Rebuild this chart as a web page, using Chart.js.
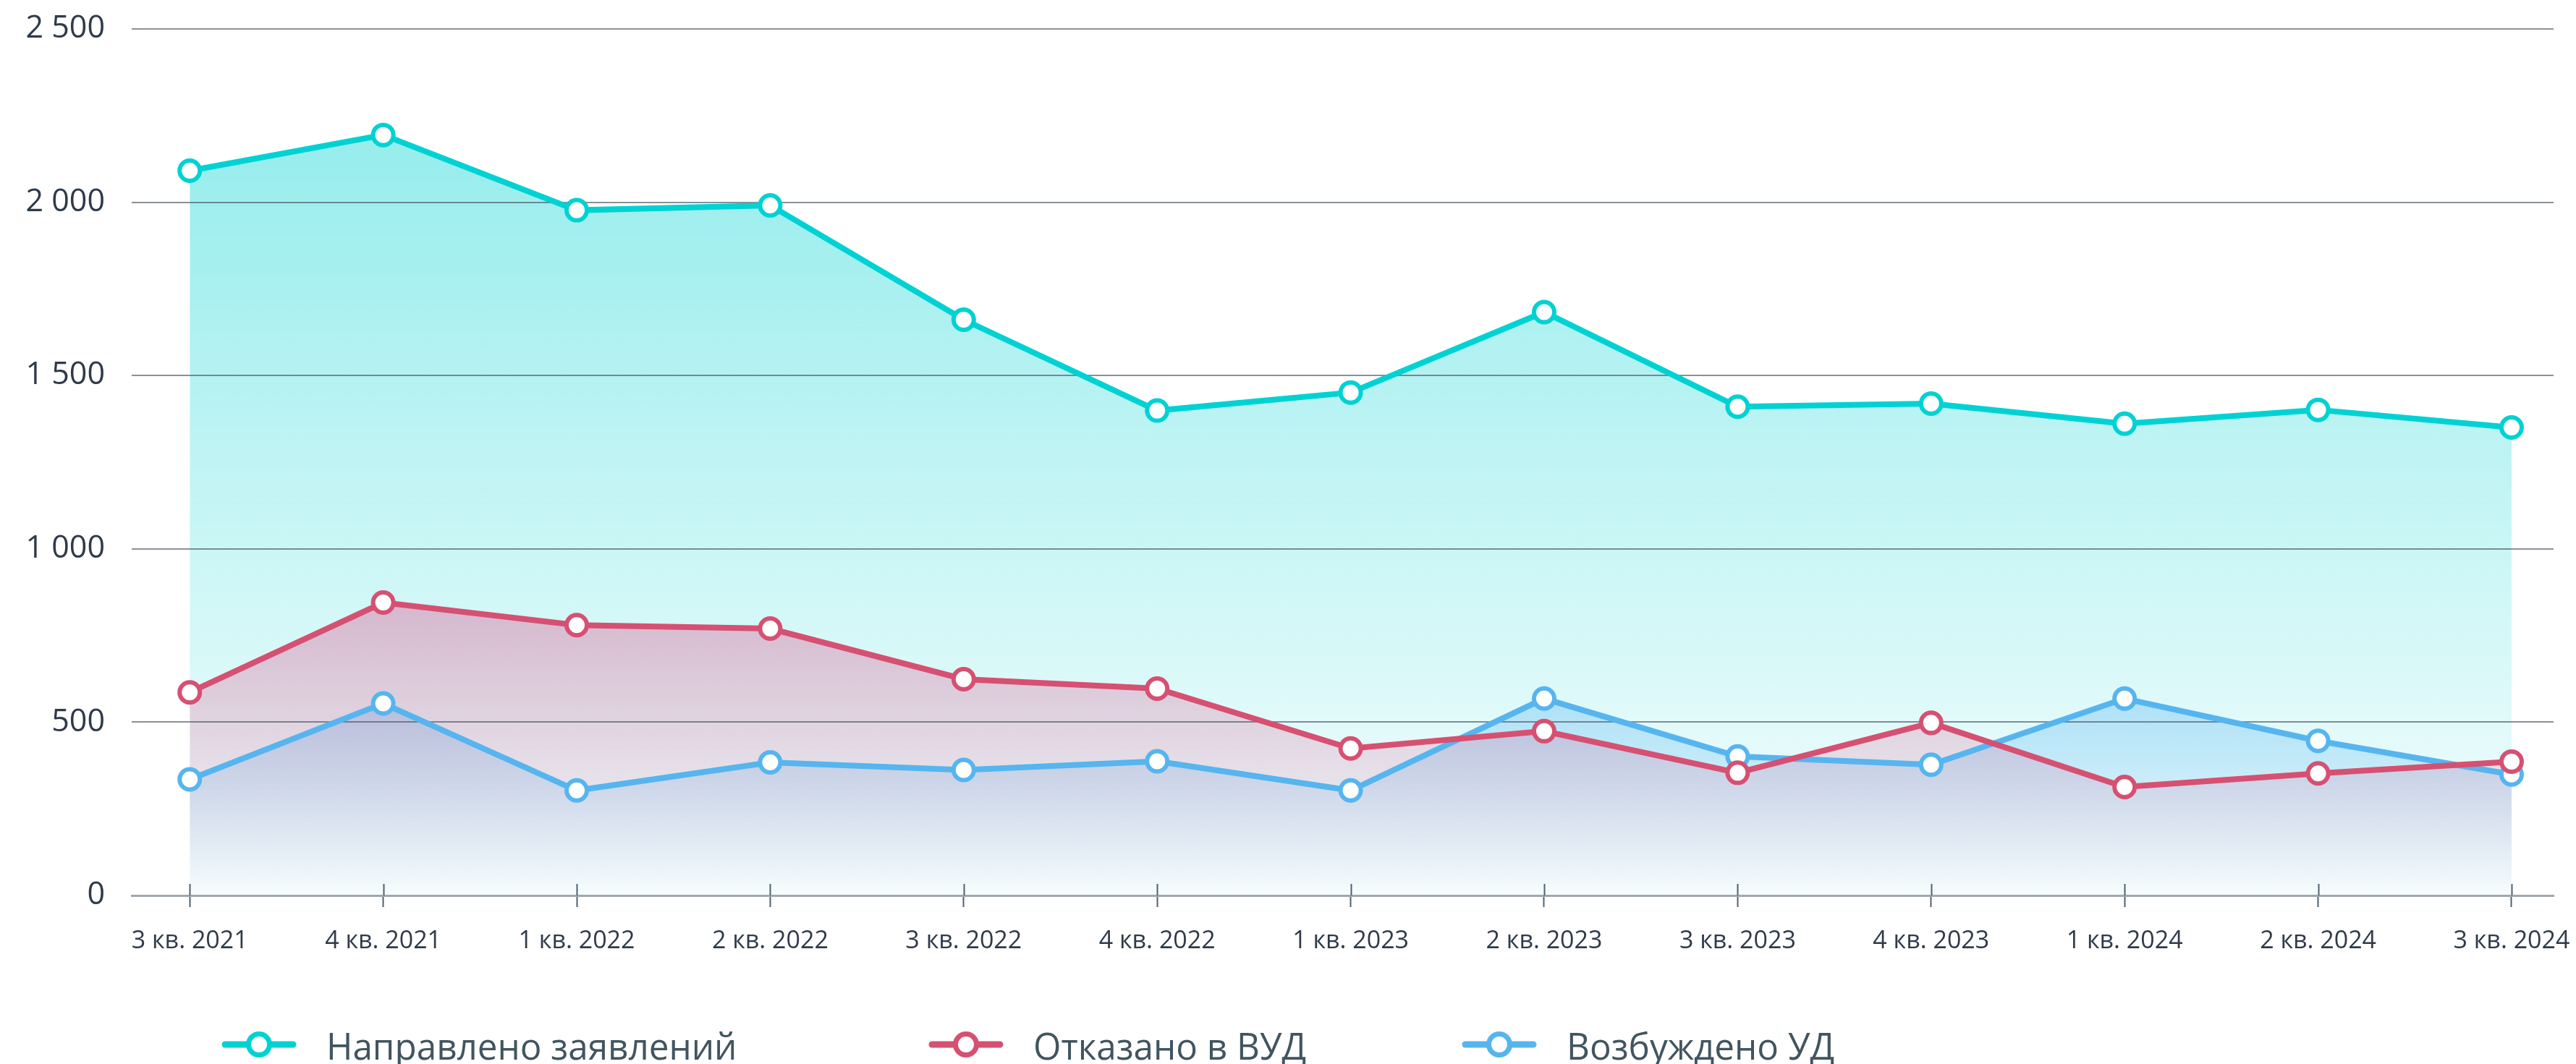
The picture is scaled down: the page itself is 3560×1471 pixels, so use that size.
<!DOCTYPE html>
<html lang="ru">

<head>
    <meta charset="UTF-8">
    <title>Направлено заявлений, отказано в ВУД, возбуждено УД</title>
    <script src="https://cdn.jsdelivr.net/npm/chart.js@4"></script>
    <style>
        html, body { margin: 0; padding: 0; background: #fff; }
        .wrap { position: relative; width: 3560px; height: 1471px; overflow: hidden; }
        #chart { position: absolute; left: 0; top: 0; }
        .legend { position: absolute; left: 0; top: 1424px; width: 3560px; height: 40px;
                  font-family: "Open Sans", sans-serif; font-size: 52px; color: #415560; }
        .legend .item { position: absolute; top: 0; height: 40px; display: flex; align-items: center; white-space: nowrap; }
        .legend svg { flex: none; margin-right: 41px; }
        .legend span { display: inline-block; transform: scaleX(0.95); transform-origin: left center; }
    </style>
</head>

<body>
    <div class="wrap">
        <canvas id="chart" width="3560" height="1471"></canvas>
        <div class="legend" id="legend"></div>
    </div>

    <script>
        // data
        const categories = ['3 кв. 2021', '4 кв. 2021', '1 кв. 2022', '2 кв. 2022', '3 кв. 2022', '4 кв. 2022',
            '1 кв. 2023', '2 кв. 2023', '3 кв. 2023', '4 кв. 2023', '1 кв. 2024', '2 кв. 2024', '3 кв. 2024'];
        const seriesNames = ['Направлено заявлений', 'Отказано в ВУД', 'Возбуждено УД'];
        const napravleno = [2091, 2194, 1977, 1991, 1661, 1399, 1451, 1683, 1410, 1419, 1361, 1401, 1350];
        const otkazano = [586, 845, 780, 770, 624, 597, 424, 474, 354, 498, 313, 352, 386];
        const vozbuzhdeno = [335, 554, 303, 384, 362, 387, 303, 568, 401, 377, 568, 446, 349];
        const yTicks = [0, 500, 1000, 1500, 2000, 2500];

        const colors = ['#00d2d3', '#d65072', '#56b5ef'];
        const fillRGB = ['0,210,210', '220,70,130', '86,180,240'];
        // value from which each fill gradient starts, and its opacity there
        const fillFrom = [2250, 850, 580];
        const fillAlpha = [0.42, 0.36, 0.36];

        // x range: a bit of room before the first quarter and after the last
        const xMin = -0.3;
        const xMax = 12.217;

        function fmt(v) {
            return String(v).replace(/\B(?=(\d{3})+(?!\d))/g, ' ');
        }

        function toPoints(arr) {
            return arr.map((v, i) => ({ x: i, y: v }));
        }

        function makeFill(i) {
            return function (context) {
                const chart = context.chart;
                const area = chart.chartArea;
                if (!area) return 'rgba(' + fillRGB[i] + ',0.2)';
                const top = chart.scales.y.getPixelForValue(fillFrom[i]);
                const g = chart.ctx.createLinearGradient(0, top, 0, area.bottom);
                g.addColorStop(0, 'rgba(' + fillRGB[i] + ',' + fillAlpha[i] + ')');
                g.addColorStop(1, 'rgba(' + fillRGB[i] + ',' + (i == 0 ? 0.03 : 0) + ')');
                return g;
            };
        }

        const allSeries = [napravleno, otkazano, vozbuzhdeno];
        const drawOrder = [3, 1, 2];

        const datasets = allSeries.map((s, i) => ({
            label: seriesNames[i],
            data: toPoints(s),
            borderColor: colors[i],
            borderWidth: 8,
            backgroundColor: makeFill(i),
            fill: 'origin',
            tension: 0,
            pointRadius: 14,
            pointBorderWidth: 6,
            pointBackgroundColor: '#fff',
            pointBorderColor: colors[i],
            order: drawOrder[i]
        }));

        // horizontal grid lines, same length as the x axis line
        const hGrid = {
            id: 'hGrid',
            beforeDatasetsDraw(chart) {
                const ctx = chart.ctx;
                const x = chart.scales.x;
                const y = chart.scales.y;
                const step = x.getPixelForValue(1) - x.getPixelForValue(0);
                const last = categories.length - 1;
                const x1 = x.getPixelForValue(0) + xMin * step;
                const x2 = Math.min(x.getPixelForValue(xMax), x.getPixelForValue(last) + (xMax - last) * step);
                ctx.save();
                ctx.strokeStyle = 'rgba(72,80,94,0.85)';
                ctx.lineWidth = 1.5;
                yTicks.forEach(v => {
                    if (v === 0) return;
                    const py = Math.round(y.getPixelForValue(v));
                    ctx.beginPath();
                    ctx.moveTo(x1, py);
                    ctx.lineTo(x2, py);
                    ctx.stroke();
                });
                ctx.restore();
            }
        };

        // tick marks that cross the x axis line
        const crossTicks = {
            id: 'crossTicks',
            afterDatasetsDraw(chart) {
                const ctx = chart.ctx;
                const x = chart.scales.x;
                const bottom = chart.chartArea.bottom;
                ctx.save();
                ctx.strokeStyle = '#4e6070';
                ctx.lineWidth = 2;
                categories.forEach((c, i) => {
                    const px = Math.round(x.getPixelForValue(i)) + 0.5;
                    ctx.beginPath();
                    ctx.moveTo(px, bottom - 16);
                    ctx.lineTo(px, bottom);
                    ctx.stroke();
                });
                ctx.restore();
            }
        };

        new Chart(document.getElementById('chart'), {
            type: 'line',
            data: { datasets: datasets },
            plugins: [hGrid, crossTicks],
            options: {
                responsive: false,
                animation: false,
                layout: { padding: { top: 40, right: 0, left: 0, bottom: 0 } },
                plugins: {
                    legend: { display: false },
                    tooltip: { enabled: false },
                    filler: { drawTime: 'beforeDatasetsDraw' }
                },
                scales: {
                    x: {
                        type: 'linear',
                        min: xMin,
                        max: xMax,
                        afterBuildTicks: scale => { scale.ticks = categories.map((c, i) => ({ value: i })); },
                        afterFit: scale => {
                            scale.height = 233;
                            scale.paddingLeft = 0;
                            scale.paddingRight = 31;
                        },
                        ticks: {
                            callback: v => categories[v],
                            autoSkip: false,
                            maxRotation: 0,
                            padding: 27,
                            color: '#2f3a4a',
                            font: { family: 'Open Sans', size: 34 }
                        },
                        grid: {
                            drawOnChartArea: false,
                            drawTicks: true,
                            tickLength: 16,
                            tickWidth: 2,
                            tickColor: '#4e6070'
                        },
                        border: { display: true, color: '#a0a7ad', width: 3 }
                    },
                    y: {
                        min: 0,
                        max: 2500,
                        afterBuildTicks: scale => { scale.ticks = yTicks.map(v => ({ value: v })); },
                        afterFit: scale => {
                            scale.width = 182;
                            scale.paddingTop = 0;
                            scale.paddingBottom = 0;
                        },
                        ticks: {
                            callback: v => fmt(v),
                            padding: 37,
                            color: '#2f3a4a',
                            font: { family: 'Open Sans', size: 43 }
                        },
                        grid: { display: false, drawTicks: false },
                        border: { display: false }
                    }
                }
            }
        });

        // legend under the chart
        const legendLeft = [306, 1283, 2020];
        const legend = document.getElementById('legend');
        seriesNames.forEach((name, i) => {
            const item = document.createElement('div');
            item.className = 'item';
            item.style.left = legendLeft[i] + 'px';
            item.innerHTML =
                '<svg width="104" height="40" viewBox="0 0 104 40">' +
                '<line x1="5" y1="20" x2="99" y2="20" stroke="' + colors[i] + '" stroke-width="9" stroke-linecap="round"/>' +
                '<circle cx="52" cy="20" r="14.5" fill="#fff" stroke="' + colors[i] + '" stroke-width="7"/>' +
                '</svg><span>' + name + '</span>';
            legend.appendChild(item);
        });
    </script>
</body>

</html>
